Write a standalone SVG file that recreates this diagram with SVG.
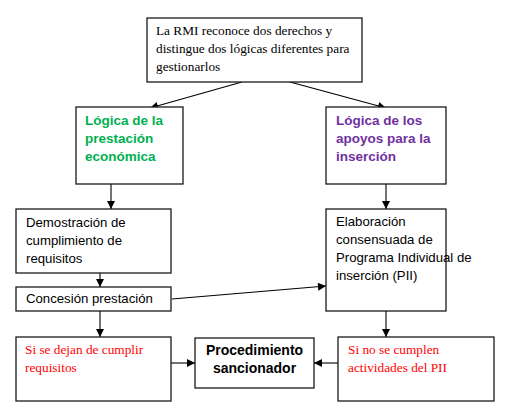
<svg xmlns="http://www.w3.org/2000/svg" width="510" height="414" viewBox="0 0 510 414">
<defs>
<marker id="ah" viewBox="0 0 10 10" refX="10" refY="5" markerWidth="9" markerHeight="8" markerUnits="userSpaceOnUse" orient="auto">
<path d="M0,0 L10,5 L0,10 z" fill="#000"/>
</marker>
<style>
.box{fill:#fff;stroke:#1a1a1a;stroke-width:1.3}
.ln{fill:none;stroke:#000;stroke-width:1.1;marker-end:url(#ah)}
.tr{font-family:"Liberation Serif","Times New Roman",serif;font-size:13.3px}
.ar{font-family:"Liberation Sans",Arial,sans-serif;font-size:13.2px;fill:#000}
.hd{font-family:"Liberation Sans",Arial,sans-serif;font-size:13.5px;font-weight:bold}
.red{fill:#ff0000}
</style>
</defs>
<rect width="510" height="414" fill="#fff"/>
<g id="connectors">
<line class="ln" x1="242" y1="82" x2="150" y2="108"/>
<line class="ln" x1="290" y1="82" x2="386" y2="108"/>
<line class="ln" x1="111" y1="184" x2="111" y2="209"/>
<line class="ln" x1="386" y1="184" x2="386" y2="209"/>
<line class="ln" x1="100" y1="273" x2="100" y2="287"/>
<line class="ln" x1="100" y1="311" x2="100" y2="337"/>
<line class="ln" x1="386" y1="311" x2="386" y2="337"/>
<line class="ln" x1="172" y1="299" x2="326" y2="286"/>
<line class="ln" x1="171" y1="363" x2="195" y2="363"/>
<line class="ln" x1="338" y1="363" x2="314" y2="363"/>
</g>
<g id="top">
<rect class="box" x="147" y="18" width="215" height="64"/>
<text class="tr" x="156" y="35">La RMI reconoce dos derechos y</text>
<text class="tr" x="156" y="53">distingue dos lógicas diferentes para</text>
<text class="tr" x="156" y="71">gestionarlos</text>
</g>
<g id="logica-prestacion">
<rect class="box" x="76" y="107" width="107" height="77"/>
<text class="hd" fill="#00b050" x="85" y="125">Lógica de la</text>
<text class="hd" fill="#00b050" x="85" y="143">prestación</text>
<text class="hd" fill="#00b050" x="85" y="161">económica</text>
</g>
<g id="logica-apoyos">
<rect class="box" x="326" y="107" width="120" height="77"/>
<text class="hd" fill="#7030a0" x="336" y="125">Lógica de los</text>
<text class="hd" fill="#7030a0" x="336" y="143">apoyos para la</text>
<text class="hd" fill="#7030a0" x="336" y="161">inserción</text>
</g>
<g id="demostracion">
<rect class="box" x="16" y="209" width="155" height="64"/>
<text class="ar" x="26" y="227">Demostración de</text>
<text class="ar" x="26" y="245">cumplimiento de</text>
<text class="ar" x="26" y="263">requisitos</text>
</g>
<g id="concesion">
<rect class="box" x="16" y="287" width="155" height="24"/>
<text class="ar" x="26" y="303">Concesión prestación</text>
</g>
<g id="elaboracion">
<rect class="box" x="326" y="209" width="120" height="102"/>
<text class="ar" x="336" y="226">Elaboración</text>
<text class="ar" x="336" y="244">consensuada de</text>
<text class="ar" x="336" y="262">Programa Individual de</text>
<text class="ar" x="336" y="280">inserción (PII)</text>
</g>
<g id="si-dejan">
<rect class="box" x="16" y="337" width="155" height="64"/>
<text class="tr red" x="25" y="354">Si se dejan de cumplir</text>
<text class="tr red" x="25" y="372">requisitos</text>
</g>
<g id="procedimiento">
<rect class="box" x="195" y="338" width="119" height="50"/>
<text class="hd" fill="#000" x="254.5" y="355" text-anchor="middle" style="font-size:14px">Procedimiento</text>
<text class="hd" fill="#000" x="254.5" y="373" text-anchor="middle" style="font-size:14px">sancionador</text>
</g>
<g id="si-no">
<rect class="box" x="338" y="337" width="156" height="64"/>
<text class="tr red" x="348" y="354">Si no se cumplen</text>
<text class="tr red" x="348" y="372">actividades del PII</text>
</g>
</svg>
